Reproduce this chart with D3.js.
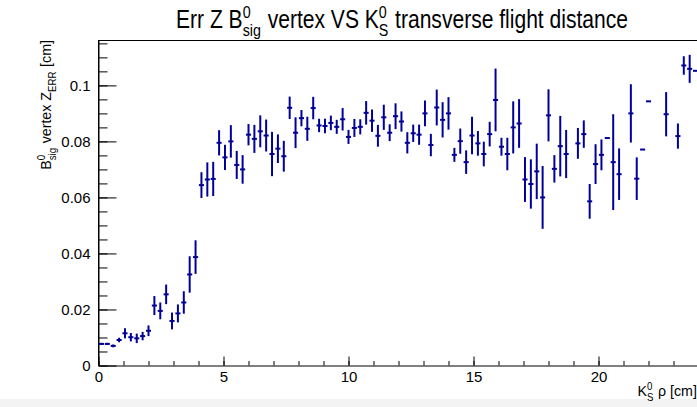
<!DOCTYPE html>
<html><head><meta charset="utf-8">
<script src="https://cdn.jsdelivr.net/npm/d3@7"></script>
<style>
html,body{margin:0;padding:0;background:#fff;}
svg{display:block;}
text{font-family:"Liberation Sans",Arial,Helvetica,sans-serif;white-space:pre;}
</style></head>
<body>
<svg id="chart" width="697" height="407"></svg>
<script>
// ---- data (TProfile-like, 102 bins over 0..24 cm) ----
const xMin = 0, xMax = 24, binCount = 102;
const values = [
 0.0077,0.0077,0.0070,0.0091,0.0115,0.0101,0.0097,0.0105,0.0124,0.0214,
 0.0195,0.0254,0.0159,0.0186,0.0225,0.0325,0.0387,0.0644,0.0664,0.0666,
 0.0795,0.0743,0.0800,0.0716,0.0700,0.0824,0.0809,0.0836,0.0821,0.0755,
 0.0774,0.0747,0.0920,0.0831,0.0883,0.0845,0.0919,0.0857,0.0855,0.0866,
 0.0852,0.0879,0.0816,0.0848,0.0852,0.0902,0.0874,0.0820,0.0886,0.0831,
 0.0890,0.0871,0.0795,0.0829,0.0824,0.0900,0.0787,0.0921,0.0877,0.0900,
 0.0752,0.0801,0.0726,0.0821,0.0793,0.0755,0.0826,0.0948,0.0781,0.0755,
 0.0850,0.0864,0.0664,0.0648,0.0693,0.0600,0.0893,0.0702,0.0783,0.0755,
 null,  0.0793,0.0826,0.0586,0.0719,0.0752,0.0812,0.0726,0.0683,null,
 0.0900,0.0667,0.0771,0.0943,null,  null,  0.0897,null,  0.0819,0.1071,
 0.1059,0.1052
];
const errors = [
 0.0004,0.0004,0.0005,0.0008,0.0018,0.0015,0.0017,0.0015,0.0019,0.0034,
 0.0030,0.0035,0.0030,0.0032,0.0040,0.0065,0.0060,0.0046,0.0061,0.0061,
 0.0045,0.0045,0.0058,0.0050,0.0051,0.0038,0.0050,0.0057,0.0057,0.0079,
 0.0051,0.0055,0.0040,0.0055,0.0029,0.0043,0.0040,0.0024,0.0026,0.0026,
 0.0025,0.0040,0.0025,0.0032,0.0027,0.0042,0.0040,0.0039,0.0045,0.0030,
 0.0046,0.0036,0.0038,0.0031,0.0036,0.0046,0.0040,0.0064,0.0063,0.0058,
 0.0025,0.0045,0.0042,0.0067,0.0044,0.0044,0.0044,0.0112,0.0032,0.0058,
 0.0093,0.0087,0.0080,0.0088,0.0099,0.0112,0.0093,0.0049,0.0108,0.0086,
 0,     0.0055,0.0049,0.0062,0.0071,0.0055,0,     0.0171,0.0092,0,
 0.0104,0.0076,0,     0,     0,     0,     0.0079,0,     0.0045,0.0033,
 0.0050,0
];
const yMax = 0.1162;
const yTicks = [0, 0.02, 0.04, 0.06, 0.08, 0.1];
const yTickLabels = ["0", "0.02", "0.04", "0.06", "0.08", "0.1"];
const xTicks = [0, 5, 10, 15, 20];
const xTickLabels = ["0", "5", "10", "15", "20"];
const titleParts = ["Err Z B", {sup: "0", sub: "sig"}, " vertex VS K", {sup: "0", sub: "S"}, " transverse flight distance"];
const yTitleParts = ["B", {sup: "0", sub: "sig"}, " vertex Z", {sub: "ERR"}, " [cm]"];
const xTitleParts = ["K", {sup: "0", sub: "S"}, " \u03C1 [cm]"];

// ---- layout ----
const frame = {left: 98.5, right: 698.5, top: 40, bottom: 365.5};
const color = "#000099";
const svg = d3.select("#chart");

svg.append("rect").attr("x", 0).attr("y", 399).attr("width", 697).attr("height", 8).attr("fill", "#f3f3f3");

const x = d3.scaleLinear().domain([xMin, xMax]).range([frame.left, frame.right]);
const y = d3.scaleLinear().domain([0, yMax]).range([frame.bottom, frame.top]);
const bw = (xMax - xMin) / binCount;

// rich text helper (TLatex-like sup/sub)
function rich(parent, parts, size) {
  const g = parent.append("g");
  let cx = 0;
  parts.forEach(p => {
    if (typeof p === "string") {
      const t = g.append("text").attr("x", cx).attr("font-size", size).attr("fill", "#000").text(p);
      cx += t.node().getComputedTextLength();
    } else {
      let w = 0;
      if (p.sup) {
        const t = g.append("text").attr("x", cx).attr("y", -size * 0.42).attr("font-size", size * 0.68).text(p.sup);
        w = Math.max(w, t.node().getComputedTextLength());
      }
      if (p.sub) {
        const t = g.append("text").attr("x", cx).attr("y", size * 0.32).attr("font-size", size * 0.68).text(p.sub);
        w = Math.max(w, t.node().getComputedTextLength());
      }
      cx += w + size * 0.04;
    }
  });
  return {g, width: cx};
}

// axes
const axisStyle = g => {
  g.selectAll("path.domain").attr("stroke", "#000").attr("stroke-width", 1);
  g.selectAll(".tick line").attr("stroke", "#000").attr("stroke-width", 1);
  g.selectAll("text").attr("font-size", 15).attr("fill", "#000").attr("font-family", "Liberation Sans, Arial, sans-serif");
};

// minor ticks
const yMinor = d3.range(0, yMax, 0.005);
svg.append("g").attr("transform", `translate(${frame.left},0)`)
  .call(d3.axisLeft(y).tickValues(yMinor).tickSize(-9).tickSizeOuter(0).tickFormat(""))
  .call(axisStyle).select("path.domain").remove();
const xMinor = d3.range(0, xMax + 0.001, 1);
svg.append("g").attr("transform", `translate(0,${frame.bottom})`)
  .call(d3.axisBottom(x).tickValues(xMinor).tickSize(-4.5).tickSizeOuter(0).tickFormat(""))
  .call(axisStyle).select("path.domain").remove();

// major axes
svg.append("g").attr("transform", `translate(${frame.left},0)`)
  .call(d3.axisLeft(y).tickValues(yTicks).tickSize(-18).tickSizeOuter(0).tickPadding(8)
    .tickFormat((d, i) => yTickLabels[i]))
  .call(axisStyle);
svg.append("g").attr("transform", `translate(0,${frame.bottom})`)
  .call(d3.axisBottom(x).tickValues(xTicks).tickSize(-9).tickSizeOuter(0).tickPadding(6)
    .tickFormat((d, i) => xTickLabels[i]))
  .call(axisStyle);

// frame top line + left axis to top
svg.append("line").attr("x1", frame.left).attr("x2", 697).attr("y1", frame.top + 0.5).attr("y2", frame.top + 0.5)
  .attr("stroke", "#000").attr("stroke-width", 1);
svg.append("line").attr("x1", frame.left).attr("x2", frame.left).attr("y1", frame.top).attr("y2", frame.bottom)
  .attr("stroke", "#000").attr("stroke-width", 1);

// data points with error bars
const pts = values.map((v, i) => ({i, v, e: errors[i]})).filter(d => d.v !== null);
const pg = svg.append("g").attr("stroke", color).attr("stroke-width", 2);
pts.forEach(d => {
  const lo = xMin + d.i * bw, hi = lo + bw, c = lo + bw / 2;
  pg.append("line").attr("x1", x(lo) + 0.4).attr("x2", x(hi) - 0.4).attr("y1", y(d.v)).attr("y2", y(d.v));
  if (d.e > 0) {
    pg.append("line").attr("x1", x(c)).attr("x2", x(c)).attr("y1", y(d.v - d.e)).attr("y2", y(d.v + d.e));
  }
});

// title (condensed Helvetica look: horizontally scaled)
const tt = rich(svg, titleParts, 25);
const titleW = 452, sx = titleW / tt.width;
tt.g.attr("transform", `translate(${402 - titleW / 2},28) scale(${sx},1)`);

// y axis title (rotated, right-aligned at top)
const yt = rich(svg, yTitleParts, 15);
yt.g.attr("transform", `translate(51,${frame.top}) rotate(-90) translate(${-yt.width * 0.95},0) scale(0.95,1)`);

// x axis title (right-aligned)
const xt = rich(svg, xTitleParts, 15);
xt.g.attr("transform", `translate(${697 - xt.width * 0.95},396) scale(0.95,1)`);
</script>
</body></html>
